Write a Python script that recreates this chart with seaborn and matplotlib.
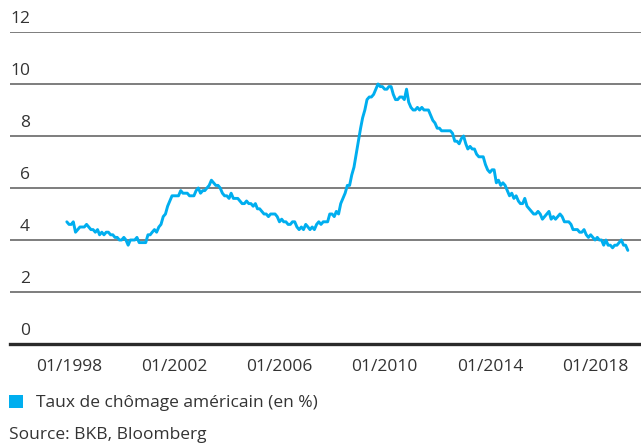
import pandas as pd
import matplotlib.pyplot as plt
import matplotlib.dates as mdates
import seaborn as sns
from matplotlib.patches import Patch

# US unemployment rate (%), monthly, 12/1997 - 04/2019
start = "1997-12-01"
rate = [
    4.7,
    4.6, 4.6, 4.7, 4.3, 4.4, 4.5, 4.5, 4.5, 4.6, 4.5, 4.4, 4.4,  # 1998
    4.3, 4.4, 4.2, 4.3, 4.2, 4.3, 4.3, 4.2, 4.2, 4.1, 4.1, 4.0,  # 1999
    4.0, 4.1, 4.0, 3.8, 4.0, 4.0, 4.0, 4.1, 3.9, 3.9, 3.9, 3.9,  # 2000
    4.2, 4.2, 4.3, 4.4, 4.3, 4.5, 4.6, 4.9, 5.0, 5.3, 5.5, 5.7,  # 2001
    5.7, 5.7, 5.7, 5.9, 5.8, 5.8, 5.8, 5.7, 5.7, 5.7, 5.9, 6.0,  # 2002
    5.8, 5.9, 5.9, 6.0, 6.1, 6.3, 6.2, 6.1, 6.1, 6.0, 5.8, 5.7,  # 2003
    5.7, 5.6, 5.8, 5.6, 5.6, 5.6, 5.5, 5.4, 5.4, 5.5, 5.4, 5.4,  # 2004
    5.3, 5.4, 5.2, 5.2, 5.1, 5.0, 5.0, 4.9, 5.0, 5.0, 5.0, 4.9,  # 2005
    4.7, 4.8, 4.7, 4.7, 4.6, 4.6, 4.7, 4.7, 4.5, 4.4, 4.5, 4.4,  # 2006
    4.6, 4.5, 4.4, 4.5, 4.4, 4.6, 4.7, 4.6, 4.7, 4.7, 4.7, 5.0,  # 2007
    5.0, 4.9, 5.1, 5.0, 5.4, 5.6, 5.8, 6.1, 6.1, 6.5, 6.8, 7.3,  # 2008
    7.8, 8.3, 8.7, 9.0, 9.4, 9.5, 9.5, 9.6, 9.8, 10.0, 9.9, 9.9,  # 2009
    9.8, 9.8, 9.9, 9.9, 9.6, 9.4, 9.4, 9.5, 9.5, 9.4, 9.8, 9.3,  # 2010
    9.1, 9.0, 9.0, 9.1, 9.0, 9.1, 9.0, 9.0, 9.0, 8.8, 8.6, 8.5,  # 2011
    8.3, 8.3, 8.2, 8.2, 8.2, 8.2, 8.2, 8.1, 7.8, 7.8, 7.7, 7.9,  # 2012
    8.0, 7.7, 7.5, 7.6, 7.5, 7.5, 7.3, 7.2, 7.2, 7.2, 6.9, 6.7,  # 2013
    6.6, 6.7, 6.7, 6.2, 6.3, 6.1, 6.2, 6.1, 5.9, 5.7, 5.8, 5.6,  # 2014
    5.7, 5.5, 5.4, 5.4, 5.6, 5.3, 5.2, 5.1, 5.0, 5.0, 5.1, 5.0,  # 2015
    4.8, 4.9, 5.0, 5.1, 4.8, 4.9, 4.8, 4.9, 5.0, 4.9, 4.7, 4.7,  # 2016
    4.7, 4.6, 4.4, 4.4, 4.4, 4.3, 4.3, 4.4, 4.2, 4.1, 4.2, 4.1,  # 2017
    4.0, 4.1, 4.0, 4.0, 3.8, 4.0, 3.8, 3.8, 3.7, 3.8, 3.8, 3.9,  # 2018
    4.0, 3.8, 3.8, 3.6,                                          # 2019
]
tick_years = [1998, 2002, 2006, 2010, 2014, 2018]
y_ticks = [0, 2, 4, 6, 8, 10, 12]
series_label = "Taux de chômage américain (en %)"
source = "Source: BKB, Bloomberg"

df = pd.DataFrame({"date": pd.date_range(start, periods=len(rate), freq="MS"),
                   "rate": rate})

blue = "#00aeef"
txt = "#333333"
fs = 12.5

sns.set_theme(style="white")
plt.rcParams["font.family"] = ["Open Sans", "DejaVu Sans"]
plt.rcParams["font.size"] = fs

fig = plt.figure(figsize=(6.41, 4.46), dpi=100)
ax = fig.add_axes([10 / 641, 1 - 344 / 446, 631 / 641, 312 / 446])

sns.lineplot(data=df, x="date", y="rate", color=blue, lw=2.1, ax=ax)

ax.set_ylim(0, 12)
ax.set_yticks(y_ticks)
ax.set_yticklabels([])
ax.tick_params(axis="y", length=0)
ax.yaxis.grid(True, color="#5a5a5a", lw=1.1)
ax.set_axisbelow(True)
# y labels sit just above the gridlines, inside the plot
for y in y_ticks:
    ax.text(20 / 631, y + 0.2, str(y), transform=ax.get_yaxis_transform(),
            ha="right", va="bottom", color=txt, fontsize=fs)

ax.set_xlim(pd.Timestamp("1995-10-04"), pd.Timestamp("2019-10-01"))
ax.set_xticks([pd.Timestamp(f"{y}-01-01") for y in tick_years])
ax.xaxis.set_major_formatter(mdates.DateFormatter("%m/%Y"))
ax.tick_params(axis="x", length=0, pad=11, labelsize=fs, labelcolor=txt)
ax.set_xlabel("")
ax.set_ylabel("")

for s in ["top", "right", "left"]:
    ax.spines[s].set_visible(False)
ax.spines["bottom"].set_color("#2a2a2a")
ax.spines["bottom"].set_linewidth(2.4)

fig.legend(handles=[Patch(facecolor=blue, edgecolor="none", label=series_label)],
           loc="center left", bbox_to_anchor=(9 / 641, 1 - 403 / 446),
           frameon=False, handlelength=0.8, handleheight=0.8,
           handletextpad=0.75, borderpad=0, borderaxespad=0,
           labelcolor=txt, fontsize=fs)
fig.text(9 / 641, 1 - 435 / 446, source, ha="left", va="center",
         color=txt, fontsize=fs)

fig.savefig("out.png", dpi=100)
